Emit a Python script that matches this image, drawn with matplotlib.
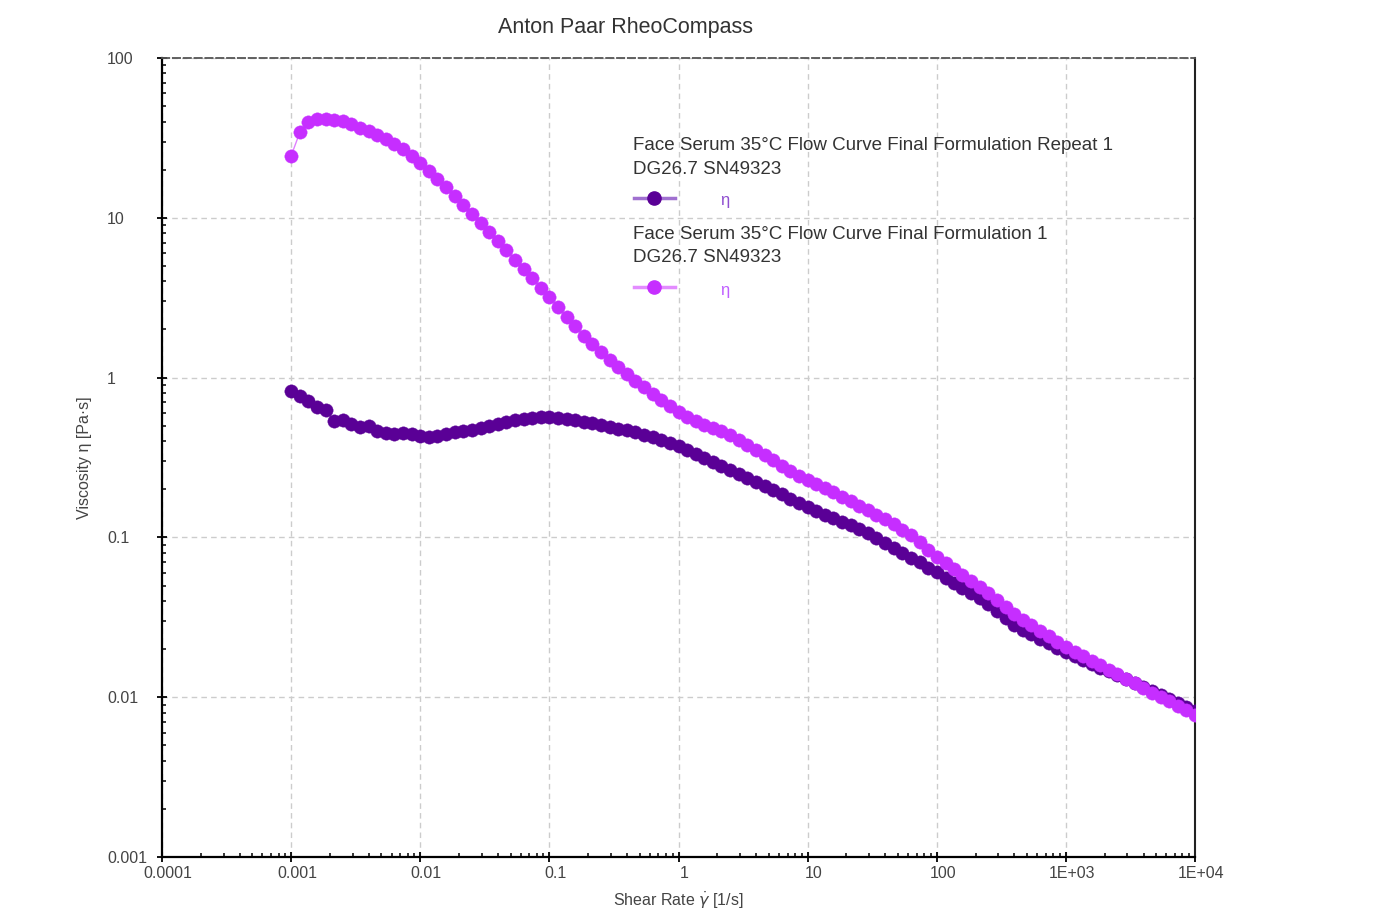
import matplotlib
matplotlib.use("Agg")
import matplotlib.pyplot as plt
import matplotlib.transforms as mtransforms
from matplotlib.lines import Line2D
from matplotlib.ticker import LogLocator, FixedLocator, FixedFormatter, NullFormatter

plt.rcParams['font.family'] = ['Liberation Sans', 'DejaVu Sans']

# shear rate points [1/s], 15 per decade (same grid for both runs)
shear_rate = [
    0.001, 0.00117, 0.00136, 0.00158, 0.00185, 0.00215, 0.00251, 0.00293, 0.00341, 0.00398, 0.00464, 0.00541, 0.00631, 0.00736, 0.00858,
    0.01, 0.0117, 0.0136, 0.0158, 0.0185, 0.0215, 0.0251, 0.0293, 0.0341, 0.0398, 0.0464, 0.0541, 0.0631, 0.0736, 0.0858,
    0.1, 0.117, 0.136, 0.158, 0.185, 0.215, 0.251, 0.293, 0.341, 0.398, 0.464, 0.541, 0.631, 0.736, 0.858,
    1.0, 1.17, 1.36, 1.58, 1.85, 2.15, 2.51, 2.93, 3.41, 3.98, 4.64, 5.41, 6.31, 7.36, 8.58,
    10.0, 11.7, 13.6, 15.8, 18.5, 21.5, 25.1, 29.3, 34.1, 39.8, 46.4, 54.1, 63.1, 73.6, 85.8,
    100.0, 117.0, 136.0, 158.0, 185.0, 215.0, 251.0, 293.0, 341.0, 398.0, 464.0, 541.0, 631.0, 736.0, 858.0,
    1000.0, 1170.0, 1360.0, 1580.0, 1850.0, 2150.0, 2510.0, 2930.0, 3410.0, 3980.0, 4640.0, 5410.0, 6310.0, 7360.0, 8580.0,
    10000.0,
]

# viscosity [Pa.s] - Final Formulation Repeat 1 (dark purple)
eta_repeat = [
    0.824, 0.767, 0.714, 0.655, 0.627, 0.535, 0.543, 0.513, 0.491, 0.498, 0.463, 0.450, 0.444, 0.450, 0.444,
    0.431, 0.425, 0.431, 0.444, 0.457, 0.463, 0.473, 0.484, 0.498, 0.516, 0.531, 0.543, 0.551, 0.559, 0.563,
    0.563, 0.559, 0.551, 0.543, 0.531, 0.520, 0.505, 0.491, 0.480, 0.470, 0.457, 0.440, 0.425, 0.407, 0.390,
    0.373, 0.352, 0.333, 0.314, 0.296, 0.280, 0.264, 0.249, 0.235, 0.222, 0.210, 0.198, 0.186, 0.175, 0.164,
    0.155, 0.146, 0.139, 0.132, 0.125, 0.119, 0.113, 0.1065, 0.0991, 0.0922, 0.0858, 0.0799, 0.0748, 0.0697, 0.0648,
    0.0607, 0.0561, 0.0518, 0.0482, 0.0449, 0.0418, 0.0383, 0.0346, 0.0315, 0.0285, 0.0263, 0.0247, 0.0231, 0.0217, 0.0203,
    0.0192, 0.0181, 0.0171, 0.0161, 0.0153, 0.0146, 0.0138, 0.0130, 0.0123, 0.0116, 0.0109, 0.0103, 0.00974, 0.00920, 0.00869,
    0.00820,
]

# viscosity [Pa.s] - Final Formulation 1 (magenta)
eta_final = [
    24.4, 34.4, 39.8, 41.5, 41.8, 41.2, 40.1, 38.4, 36.7, 34.9, 33.0, 31.1, 29.0, 26.9, 24.5,
    22.0, 19.6, 17.5, 15.5, 13.7, 12.0, 10.6, 9.28, 8.15, 7.16, 6.29, 5.48, 4.78, 4.20, 3.66,
    3.19, 2.77, 2.39, 2.09, 1.83, 1.62, 1.45, 1.29, 1.165, 1.053, 0.959, 0.873, 0.795, 0.724, 0.664,
    0.609, 0.567, 0.535, 0.505, 0.484, 0.463, 0.437, 0.407, 0.379, 0.352, 0.328, 0.305, 0.280, 0.260, 0.242,
    0.229, 0.216, 0.204, 0.192, 0.180, 0.169, 0.158, 0.148, 0.139, 0.130, 0.121, 0.112, 0.1028, 0.0936, 0.0840,
    0.0754, 0.0687, 0.0630, 0.0578, 0.0530, 0.0489, 0.0446, 0.0403, 0.0367, 0.0332, 0.0304, 0.0281, 0.0260, 0.0240, 0.0222,
    0.0206, 0.0192, 0.0180, 0.0168, 0.0158, 0.0148, 0.0139, 0.0130, 0.0122, 0.0114, 0.0107, 0.0100, 0.00940, 0.00881, 0.00826,
    0.00774,
]

x_ticks = [1e-4, 1e-3, 1e-2, 1e-1, 1, 10, 100, 1e3, 1e4]
x_tick_labels = ['0.0001', '0.001', '0.01', '0.1', '1', '10', '100', '1E+03', '1E+04']
y_ticks = [1e-3, 1e-2, 1e-1, 1, 10, 100]
y_tick_labels = ['0.001', '0.01', '0.1', '1', '10', '100']

legend_names = ['Face Serum 35°C Flow Curve Final Formulation Repeat 1\nDG26.7 SN49323',
                'Face Serum 35°C Flow Curve Final Formulation 1\nDG26.7 SN49323']

dark_purple = '#5a0096'
magenta = '#c62eff'
W, H = 1394, 909

fig = plt.figure(figsize=(W / 100, H / 100), dpi=100)
ax = fig.add_axes([162 / W, 1 - 857 / H, (1195 - 162) / W, (857 - 58) / H])

# data
ax.plot(shear_rate, eta_repeat, '-', color='#9a60c8', lw=1, marker='o', ms=9.6,
        mfc=dark_purple, mec=dark_purple, mew=0.3, zorder=3)
ax.plot(shear_rate, eta_final, '-', color='#e080ff', lw=1, marker='o', ms=9.6,
        mfc=magenta, mec=magenta, mew=0.3, zorder=4)

ax.set_xscale('log')
ax.set_yscale('log')
ax.set_xlim(1e-4, 1e4)
ax.set_ylim(1e-3, 100)

ax.xaxis.set_major_locator(FixedLocator(x_ticks))
ax.xaxis.set_major_formatter(FixedFormatter(x_tick_labels))
ax.yaxis.set_major_locator(FixedLocator(y_ticks))
ax.yaxis.set_major_formatter(FixedFormatter(y_tick_labels))
ax.xaxis.set_minor_locator(LogLocator(base=10, subs=range(2, 10), numticks=20))
ax.yaxis.set_minor_locator(LogLocator(base=10, subs=range(2, 10), numticks=20))
ax.xaxis.set_minor_formatter(NullFormatter())
ax.yaxis.set_minor_formatter(NullFormatter())

ax.tick_params(which='major', direction='inout', length=7, width=1.3, color='black',
               labelsize=11.5, labelcolor='#444444')
ax.tick_params(which='minor', direction='in', length=3, width=1.1, color='black')
ax.tick_params(axis='x', which='major', pad=3)
ax.tick_params(axis='y', which='major', pad=36)
for lab in ax.get_yticklabels():
    lab.set_horizontalalignment('left')
shift = mtransforms.ScaledTranslation(6 / 100, 0, fig.dpi_scale_trans)
for lab in ax.get_xticklabels():
    lab.set_transform(lab.get_transform() + shift)

ax.grid(which='major', color='#cccccc', linestyle=(0, (4, 3)), linewidth=1.0)

for side in ['left', 'bottom']:
    ax.spines[side].set_linewidth(1.6)
    ax.spines[side].set_color('black')
ax.spines['right'].set_linewidth(1.5)
ax.spines['right'].set_color('#222222')
ax.spines['top'].set_linewidth(1.3)
ax.spines['top'].set_color('#555555')
ax.spines['top'].set_linestyle((0, (4, 2)))

# titles / axis labels
fig.text(625 / W, 1 - 27 / H, 'Anton Paar RheoCompass', ha='center', va='center',
         fontsize=15.5, color='#333333')
fig.text(678 / W, 1 - 900 / H, r'Shear Rate $\dot{\gamma}$ [1/s]', ha='center', va='center',
         fontsize=11.5, color='#444444')
fig.text(85 / W, 1 - 458 / H, 'Viscosity η [Pa·s]', ha='center', va='center',
         rotation=90, fontsize=11.5, color='#444444')

# legend drawn by hand to match the RheoCompass layout
entries = [(legend_names[0], 147, 198, '#a070d0', dark_purple, '#9050d0'),
           (legend_names[1], 236, 287, '#e38cff', magenta, '#c060ff')]
for name, ty, hy, lcol, mcol, ecol in entries:
    fig.text(633 / W, 1 - (ty - 10) / H, name, ha='left', va='top', fontsize=13.5,
             color='#333333', linespacing=1.5)
    fig.add_artist(Line2D([634 / W, 675 / W], [1 - hy / H, 1 - hy / H], color=lcol, lw=2.5,
                          transform=fig.transFigure))
    fig.add_artist(Line2D([654 / W], [1 - hy / H], marker='o', ms=9.5, mfc=mcol, mec=mcol,
                          transform=fig.transFigure))
    fig.text(725 / W, 1 - (hy + 3) / H, 'η', ha='center', va='center', fontsize=12, color=ecol)

fig.savefig('out.png', dpi=100)
